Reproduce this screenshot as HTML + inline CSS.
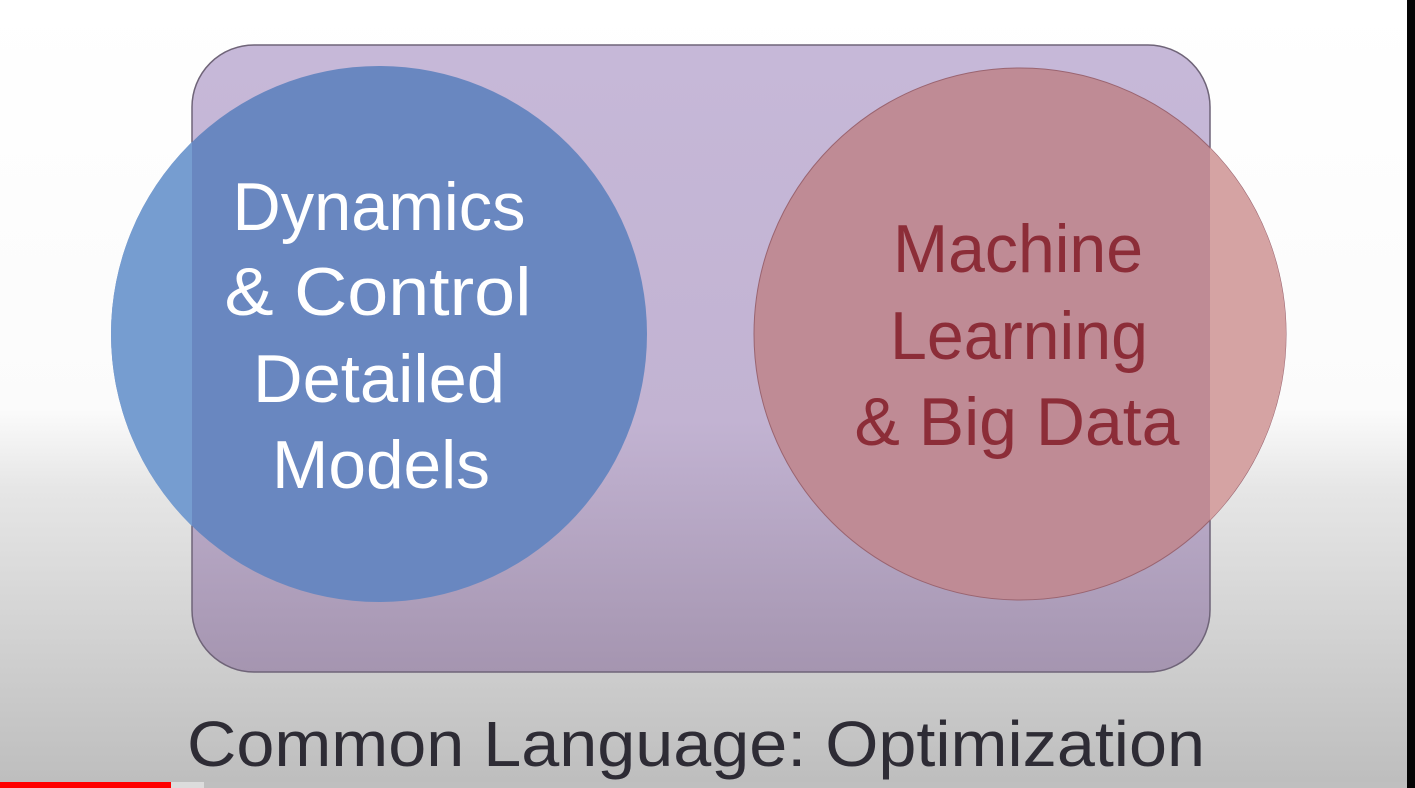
<!DOCTYPE html>
<html><head><meta charset="utf-8"><style>
html,body{margin:0;padding:0;width:1415px;height:788px;overflow:hidden;background:#fff}
svg{display:block}
</style></head><body>
<svg width="1415" height="788" viewBox="0 0 1415 788" xmlns="http://www.w3.org/2000/svg">
<defs>
<linearGradient id="bg" x1="0" y1="0" x2="0" y2="1">
<stop offset="0" stop-color="#ffffff"/>
<stop offset="0.52" stop-color="#fbfbfb"/>
<stop offset="0.62" stop-color="#e6e6e6"/>
<stop offset="1" stop-color="#bdbdbd"/>
</linearGradient>
<linearGradient id="rg" x1="0" y1="0" x2="0" y2="1">
<stop offset="0" stop-color="#c6b8d8"/>
<stop offset="0.6" stop-color="#c2b3d2"/>
<stop offset="1" stop-color="#a595b0"/>
</linearGradient>
<clipPath id="outL"><rect x="0" y="0" width="192" height="788"/></clipPath>
<clipPath id="outR"><rect x="1210" y="0" width="200" height="788"/></clipPath>
</defs>
<rect width="1415" height="788" fill="url(#bg)"/>
<rect x="192" y="45" width="1018" height="627" rx="62" fill="url(#rg)" stroke="#6f6478" stroke-width="1.5"/>
<circle cx="379" cy="334" r="268" fill="#6987c0"/>
<circle cx="379" cy="334" r="268" fill="#769dd0" clip-path="url(#outL)"/>
<circle cx="1020" cy="334" r="266" fill="#bf8b95" stroke="#9a6470" stroke-width="1"/>
<circle cx="1020" cy="334" r="266" fill="#d5a3a3" clip-path="url(#outR)"/>
<g font-family="'Liberation Sans', sans-serif" font-size="68" fill="#ffffff" text-anchor="middle">
<text x="379" y="230" textLength="293" lengthAdjust="spacingAndGlyphs">Dynamics</text>
<text x="378" y="315" textLength="307" lengthAdjust="spacingAndGlyphs">&amp; Control</text>
<text x="379" y="402" textLength="252" lengthAdjust="spacingAndGlyphs">Detailed</text>
<text x="381" y="488" textLength="218" lengthAdjust="spacingAndGlyphs">Models</text>
</g>
<g font-family="'Liberation Sans', sans-serif" font-size="68" fill="#8c2d38" text-anchor="middle">
<text x="1018" y="272" textLength="250" lengthAdjust="spacingAndGlyphs">Machine</text>
<text x="1019" y="359" textLength="258" lengthAdjust="spacingAndGlyphs">Learning</text>
<text x="1017" y="445" textLength="325" lengthAdjust="spacingAndGlyphs">&amp; Big Data</text>
</g>
<text x="696" y="766" font-family="'Liberation Sans', sans-serif" font-size="64" fill="#2e2c35" text-anchor="middle" textLength="1018" lengthAdjust="spacingAndGlyphs">Common Language: Optimization</text>
<rect x="1407" y="0" width="8" height="788" fill="#050505"/>
<rect x="0" y="782" width="1407" height="6" fill="#bfbfbf"/>
<rect x="171" y="782" width="33" height="6" fill="#dcdcdc"/>
<rect x="0" y="782" width="171" height="6" fill="#ff0000"/>
</svg>
</body></html>
